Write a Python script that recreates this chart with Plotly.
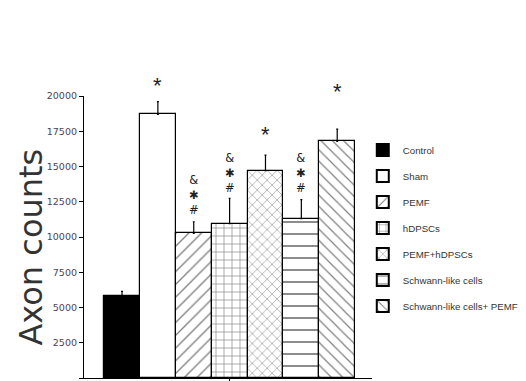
import plotly.graph_objects as go

categories = ["Control", "Sham", "PEMF", "hDPSCs", "PEMF+hDPSCs",
              "Schwann-like cells", "Schwann-like cells+ PEMF"]
values = [5800, 18700, 10250, 10950, 14700, 11300, 16780]
errors = [350, 900, 830, 1800, 1100, 1350, 870]
tick_vals = [0, 2500, 5000, 7500, 10000, 12500, 15000, 17500, 20000]
tick_text = [str(v) for v in tick_vals]

fills = ["black", "white", "white", "white", "white", "white", "white"]
patterns = ["", "", "/", "+", "x", "-", "\\"]
psizes = [8, 8, 9, 8, 7, 12, 8]

# significance marks per bar and their pixel offset above the error bar top
marks = ["", "*", "&*#", "&*#", "*", "&*#", "*"]
offsets = [0, 22, 3, 1, 27, 3, 44]

fig = go.Figure()
for i, c in enumerate(categories):
    fig.add_trace(go.Bar(
        x=[c], y=[values[i]], name=c,
        marker=dict(color=fills[i], line=dict(color="black", width=1.2),
                    pattern=dict(shape=patterns[i], fgcolor="black",
                                 bgcolor=fills[i], size=psizes[i], solidity=0.15)),
        error_y=dict(type="data", array=[errors[i]], arrayminus=[0],
                     symmetric=False, color="black", thickness=1.2, width=1),
        legendgroup=c, width=1.0,
    ))

annotations = []
for i, c in enumerate(categories):
    top = values[i] + errors[i]
    m = marks[i]
    if not m:
        continue
    if m == "*":
        annotations.append(dict(
            x=c, y=top, xref="x", yref="y", text="*", showarrow=False,
            yanchor="middle", yshift=offsets[i] - 6,
            font=dict(size=22, color="#222",
                      family="Liberation Sans, Arial, sans-serif"),
        ))
    else:
        txt = "&amp;<br>\u2731<br>#"
        annotations.append(dict(
            x=c, y=top, xref="x", yref="y", text=txt, showarrow=False,
            yanchor="bottom", yshift=offsets[i],
            font=dict(size=11.5, color="#222", family="DejaVu Sans, sans-serif"),
        ))

annotations.append(dict(
    x=-0.185, y=0.465, xref="paper", yref="paper", text="Axon counts",
    textangle=-90, showarrow=False, xanchor="center", yanchor="middle",
    font=dict(size=32, color="#333", family="DejaVu Sans, sans-serif"),
))

fig.update_layout(
    width=518, height=373,
    margin=dict(l=76, r=154, t=88, b=3, autoexpand=False),
    paper_bgcolor="white", plot_bgcolor="white",
    bargap=0, barmode="group",
    showlegend=True,
    legend=dict(x=0.968, y=0.86, xanchor="left", yanchor="top",
                font=dict(size=9.7, color="#333",
                          family="Liberation Sans, Arial, sans-serif"),
                tracegroupgap=7, itemsizing="constant"),
    annotations=annotations,
    xaxis=dict(range=[-1.06, 6.97], showticklabels=False, showgrid=False,
               showline=True, linecolor="black", linewidth=1.2,
               tickvals=[categories[3]], ticks="outside", ticklen=3,
               tickcolor="black", zeroline=False),
    yaxis=dict(range=[0, 20000], tickvals=tick_vals, ticktext=tick_text,
               showgrid=False,
               showline=True, linecolor="black", linewidth=1.2,
               ticks="outside", ticklen=4, tickcolor="black", zeroline=False,
               tickfont=dict(size=9.5, color="#4b4458", family="DejaVu Sans, sans-serif")),
)

fig.write_html("out.html")
